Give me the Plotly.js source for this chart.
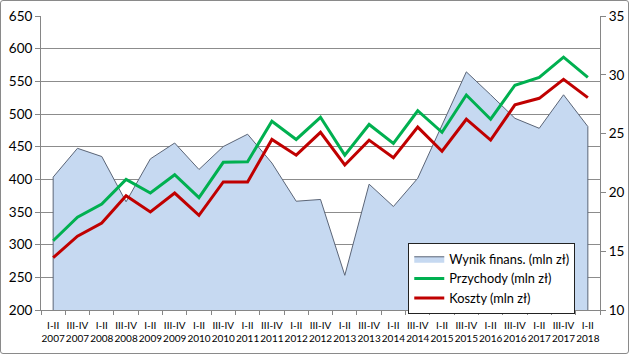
<!DOCTYPE html>
<html>
<head>
<meta charset="utf-8">
<script src="https://cdn.plot.ly/plotly-3.0.1.min.js"></script>
<style>
  html, body { margin: 0; padding: 0; background: #fff; }
  #wrap { position: relative; width: 629px; height: 354px; }
  #chart { position: absolute; left: 0; top: 0; width: 629px; height: 354px; }
  #frame { position: absolute; left: 0; top: 0; width: 629px; height: 354px; box-sizing: border-box;
           border: 1px solid #8a8a8a; border-radius: 3px; pointer-events: none; }
</style>
</head>
<body>
<div id="wrap"><div id="chart"></div><div id="frame"></div></div>
<script>
const categories = [
  "I-II<br>2007", "III-IV<br>2007", "I-II<br>2008", "III-IV<br>2008", "I-II<br>2009", "III-IV<br>2009",
  "I-II<br>2010", "III-IV<br>2010", "I-II<br>2011", "III-IV<br>2011", "I-II<br>2012", "III-IV<br>2012",
  "I-II<br>2013", "III-IV<br>2013", "I-II<br>2014", "III-IV<br>2014", "I-II<br>2015", "III-IV<br>2015",
  "I-II<br>2016", "III-IV<br>2016", "I-II<br>2017", "III-IV<br>2017", "I-II<br>2018"
];
// Wynik finansowy (right axis, mln zł)
const wynik = [21.3, 23.75, 23.05, 19.2, 22.85, 24.2, 21.95, 23.9, 24.95, 22.5, 19.25, 19.4,
               12.95, 20.7, 18.8, 21.2, 25.75, 30.25, 28.3, 26.3, 25.45, 28.3, 25.6];
// Przychody (left axis, mln zł)
const przychody = [306, 342, 362, 400, 379, 407, 372, 426, 427, 489, 461, 495,
                   437, 484, 455, 505, 472, 529, 492, 544, 556, 587, 556];
// Koszty (left axis, mln zł)
const koszty = [280, 313, 333, 375, 350, 379, 345, 396, 396, 461, 437, 472,
                422, 460, 433, 480, 443, 492, 460, 514, 524, 553, 525];

const leftRange = [200, 650];
const rightRange = [10, 35];

const FONT = "Lato, 'Open Sans', sans-serif";

// area closed down to the right axis minimum so the outline has vertical edges
const areaX = [categories[0]].concat(categories, [categories[categories.length - 1]]);
const areaY = [rightRange[0]].concat(wynik, [rightRange[0]]);

const traces = [
  {
    name: "Wynik finans. (mln zł)",
    x: areaX, y: areaY, yaxis: "y",
    type: "scatter", mode: "lines", fill: "tozeroy",
    fillcolor: "#C6D9F1",
    line: { color: "#5B6577", width: 1 },
    hoverinfo: "skip"
  },
  {
    name: "Przychody (mln zł)",
    x: categories, y: przychody, yaxis: "y2",
    type: "scatter", mode: "lines",
    line: { color: "#00B050", width: 3 }
  },
  {
    name: "Koszty (mln zł)",
    x: categories, y: koszty, yaxis: "y2",
    type: "scatter", mode: "lines",
    line: { color: "#C00000", width: 3 }
  }
];

const layout = {
  width: 629, height: 354,
  margin: { l: 41, r: 29, t: 16, b: 44, pad: 0 },
  paper_bgcolor: "#ffffff",
  plot_bgcolor: "#ffffff",
  font: { family: FONT, color: "#000000", size: 13 },
  showlegend: true,
  legend: {
    x: 0.657, y: 0.228, xanchor: "left", yanchor: "top",
    bgcolor: "#ffffff", bordercolor: "#222222", borderwidth: 1,
    font: { family: FONT, size: 12.8, color: "#000000" },
    traceorder: "normal", tracegroupgap: 0, itemwidth: 30
  },
  xaxis: {
    type: "category",
    categoryorder: "array", categoryarray: categories,
    range: [-0.5, categories.length - 0.5],
    showgrid: false, zeroline: false,
    showline: true, linecolor: "#868686", linewidth: 1,
    ticks: "outside", tickson: "boundaries", ticklen: 4, tickcolor: "#868686",
    tickangle: 0, ticklabelstandoff: 6,
    tickfont: { family: FONT, size: 10, color: "#000000" }
  },
  yaxis: {
    side: "right",
    range: rightRange, dtick: 5,
    showgrid: false, zeroline: false,
    showline: true, linecolor: "#868686", linewidth: 1,
    ticks: "outside", ticklen: 5, tickcolor: "#868686",
    tickfont: { family: FONT, size: 13.5, color: "#000000" }
  },
  yaxis2: {
    overlaying: "y", side: "left",
    range: leftRange, dtick: 50,
    showgrid: true, gridcolor: "#8c8c8c", gridwidth: 1,
    zeroline: false,
    showline: true, linecolor: "#868686", linewidth: 1,
    ticks: "outside", ticklen: 5, tickcolor: "#868686",
    tickfont: { family: FONT, size: 13.5, color: "#000000" }
  }
};

Plotly.newPlot("chart", traces, layout, { displayModeBar: false, staticPlot: true });
</script>
</body>
</html>
